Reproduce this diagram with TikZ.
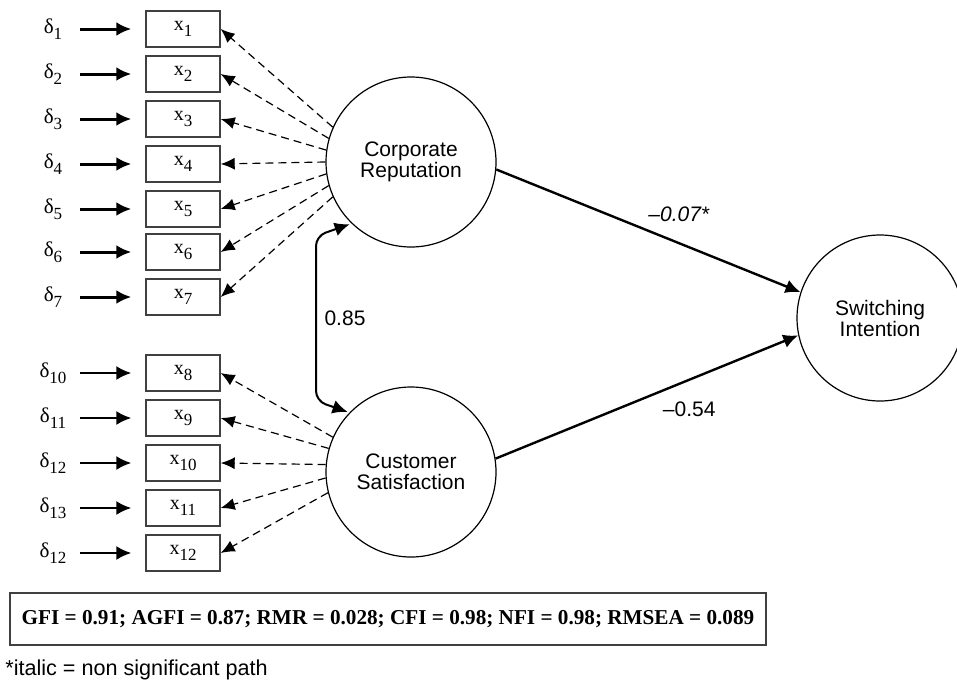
\documentclass[tikz,border=0pt]{standalone}
\usepackage{fontspec}
\setmainfont{Liberation Serif}
\setsansfont{Liberation Sans}
\usetikzlibrary{arrows.meta,positioning}
\newcommand{\lblsub}[2]{#1\raisebox{-0.6ex}{\fontsize{8.5}{9}\selectfont #2}}
\begin{document}
\begin{tikzpicture}[x=0.5pt,y=-0.5pt,
    >={Latex[length=7.5pt,width=7pt]},
    obs/.style={draw=black!75, line width=0.7pt, minimum width=37pt, minimum height=18pt, inner sep=0pt, font=\fontsize{10}{12}\selectfont},
    err/.style={minimum width=27pt, inner sep=0pt, font=\fontsize{10.5}{12}\selectfont},
    lat/.style={circle, draw, line width=0.6pt, minimum size=85pt, align=center, font=\sffamily\fontsize{10.5}{10.5}\selectfont},
    load/.style={->, dashed, dash pattern=on 4pt off 2.5pt, line width=0.6pt, >={Latex[length=7pt,width=6pt]}}]
  \useasboundingbox (0,0) rectangle (957,685);

  % latent variables
  \node[lat] (cr) at (411,162) {Corporate\\Reputation};
  \node[lat] (cs) at (411,472) {Customer\\Satisfaction};
  \node[lat, minimum size=83pt] (si) at (880,318) {Switching\\Intention};

  % indicators of corporate reputation
  \foreach \i/\y/\a in {1/29/156, 2/74/164, 3/119/172, 4/164/180, 5/209/188, 6/252/196, 7/297/204} {
    \node[obs] (x\i) at (183,\y) {\lblsub{x}{\i}};
    \node[err] (d\i) at (53,\y) {\lblsub{δ}{\i}};
    \draw[->, line width=1.5pt, shorten >=7pt] (d\i) -- (x\i);
    \draw[load] (cr.\a) -- (x\i.east);
  }

  % indicators of customer satisfaction
  \foreach \i/\d/\y/\a in {8/10/373/156, 9/11/418/164, 10/12/463/175, 11/13/508/184, 12/12/553/194} {
    \node[obs] (x\i) at (183,\y) {\lblsub{x}{\i}};
    \node[err] (d\i) at (53,\y) {\lblsub{δ}{\d}};
    \draw[->, line width=1pt, shorten >=7pt] (d\i) -- (x\i);
    \draw[load] (cs.\a) -- (x\i.east);
  }

  % structural paths
  \draw[->, line width=1.2pt] (cr.-5) -- (si.162)
    node[pos=0.6, above=7pt, font=\sffamily\itshape\fontsize{10.5}{12}\selectfont] (b1) {--0.07*};
  \draw[->, line width=1.2pt] (cs.9) -- (si.-168)
    node[pos=0.64, below=7pt, font=\sffamily\fontsize{10.5}{12}\selectfont] (b2) {--0.54};

  % correlation
  \draw[<->, line width=1pt, rounded corners=5pt, shorten <=1pt, shorten >=1pt] (cr.226) -- (316,236) -- (316,401) -- (cs.136);
  \node[font=\sffamily\fontsize{10.5}{12}\selectfont] (r) at (345,318) {0.85};

  % fit indices
  \node[draw=black!75, line width=0.7pt, minimum width=378pt, minimum height=26pt, font=\bfseries\fontsize{10.6}{12}\selectfont] (fit) at (388,619)
    {GFI = 0.91; AGFI = 0.87; RMR = 0.028; CFI = 0.98; NFI = 0.98; RMSEA = 0.089};
  \node[anchor=west, inner sep=0pt, font=\sffamily\fontsize{10.8}{12}\selectfont] (note) at (5,670) {*italic = non significant path};
\end{tikzpicture}
\end{document}
